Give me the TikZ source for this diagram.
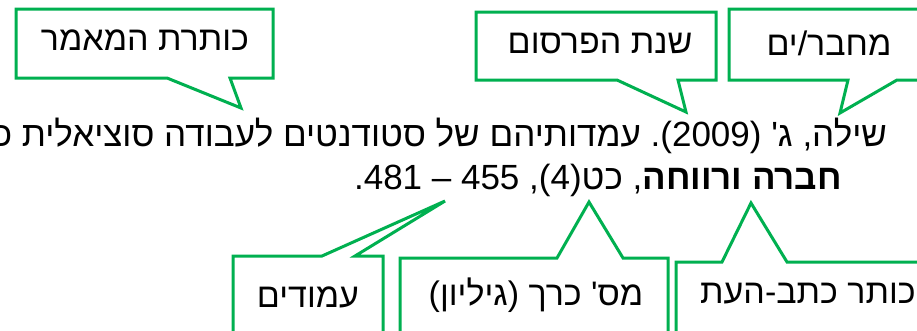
\documentclass[tikz,border=0pt]{standalone}
\usepackage{fontspec}
\setmainfont{Liberation Sans}[Ligatures=TeXOff]
\newfontfamily\heb[Script=Hebrew,Ligatures=TeXOff]{Liberation Sans}
\newcommand\HW[1]{\hbox{\heb #1}}
\definecolor{cgreen}{HTML}{00B050}
\tikzset{
  callout/.style={draw=cgreen, line width=3pt, fill=white, line join=miter, miter limit=4},
  ctext/.style={inner sep=0pt, anchor=base, font=\fontsize{34}{40}\selectfont},
  reftext/.style={inner sep=0pt, anchor=base east, font=\fontsize{35}{40}\selectfont}
}
\begin{document}
\begin{tikzpicture}[x=1pt,y=-1pt]
\useasboundingbox (0,0) rectangle (917,330);
\clip (0,0) rectangle (917,330);
\fill[white] (0,0) rectangle (917,330);

% reference text
\node[reftext] (line1) at (887,146) {\HW{כ} \HW{סוציאלית} \HW{לעבודה} \HW{סטודנטים} \HW{של} \HW{עמדותיהם} .(2009) '\HW{ג} ,\HW{שילה}};
\node[reftext] (line2) at (842,189) {.481 – 455 ,(4)\HW{כט} ,\HW{\bfseries ורווחה} \HW{\bfseries חברה}};

% top callouts
\coordinate (tipA) at (241,108);
\draw[callout] (16,9) -- (273,9) -- (273,78) -- (230,78) -- (tipA) -- (167,78) -- (16,78) -- cycle;
\node[ctext] (title) at (145,50) {\HW{המאמר} \HW{כותרת}};

\coordinate (tipB) at (686,112);
\draw[callout] (476,12) -- (716,12) -- (716,80) -- (678,80) -- (tipB) -- (617,80) -- (476,80) -- cycle;
\node[ctext] (year) at (600,53) {\HW{הפרסום} \HW{שנת}};

\coordinate (tipC) at (840,113);
\draw[callout] (729,9) -- (935,9) -- (935,80) -- (897,80) -- (tipC) -- (848,80) -- (729,80) -- cycle;
\node[ctext] (author) at (829,55) {\HW{ים}/\HW{מחבר}};

% bottom callouts
\coordinate (tipD) at (445,201);
\draw[callout] (233,256) -- (322,256) -- (tipD) -- (355,256) -- (383,256) -- (383,345) -- (233,345) -- cycle;
\node[ctext] (pages) at (308,307) {\HW{עמודים}};

\coordinate (tipE) at (589,202);
\draw[callout] (400,258) -- (557,258) -- (tipE) -- (623,258) -- (668,258) -- (668,345) -- (400,345) -- cycle;
\node[ctext] (volume) at (536,305) {(\HW{גיליון}) \HW{כרך} '\HW{מס}};

\coordinate (tipF) at (751,203);
\draw[callout] (676,262) -- (722,262) -- (tipF) -- (787,262) -- (960,262) -- (960,345) -- (676,345) -- cycle;
\node[ctext, anchor=base west] (journal) at (700,303) {\HW{העת}-\HW{כתב} \HW{כותר}};
\end{tikzpicture}
\end{document}
